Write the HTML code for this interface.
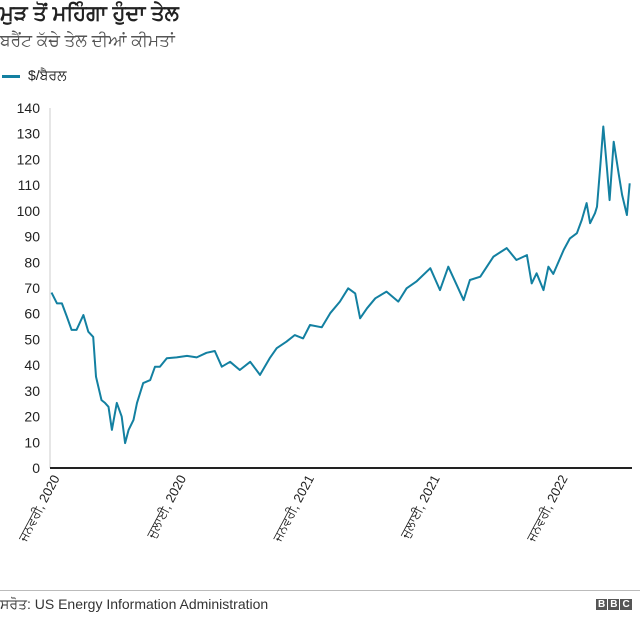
<!DOCTYPE html>
<html><head><meta charset="utf-8"><style>
body{margin:0;background:#fff;font-family:"Liberation Sans",sans-serif;}
#wrap{position:relative;width:640px;height:618px;overflow:hidden;}
.t{position:absolute;white-space:nowrap;}
</style></head><body>
<div id="wrap">
<div class="t" style="left:0;top:2px;font-size:21px;font-weight:bold;color:#222;">ਮੁੜ ਤੋਂ ਮਹਿੰਗਾ ਹੁੰਦਾ ਤੇਲ</div>
<div class="t" style="left:0;top:31px;font-size:17px;color:#555;">ਬਰੈਂਟ ਕੱਚੇ ਤੇਲ ਦੀਆਂ ਕੀਮਤਾਂ</div>
<div class="t" style="left:2px;top:67px;font-size:14px;color:#222;"><span style="display:inline-block;width:18px;height:3px;background:#1380a1;vertical-align:middle;margin-right:8px;"></span>$/ਬੈਰਲ</div>
<svg id="chart" width="640" height="618" style="position:absolute;left:0;top:0"></svg>
<div style="position:absolute;left:0;top:590px;width:640px;height:1px;background:#bbb"></div>
<div class="t" style="left:0;top:596px;font-size:14px;color:#333;">ਸਰੋਤ: US Energy Information Administration</div>
<div class="t" style="left:596px;top:599px;font-size:10px;font-weight:bold;color:#fff;">
<span style="background:#555;padding:0 2px;margin-right:1px">B</span><span style="background:#555;padding:0 2px;margin-right:1px">B</span><span style="background:#555;padding:0 2px">C</span></div>
</div>
<script>
const days=[5,13,20,27,34,41,51,58,65,69,77,82,87,92,99,106,111,116,123,128,137,147,154,161,171,185,200,214,228,240,250,262,276,291,305,319,329,343,355,367,377,394,406,420,432,442,449,459,471,487,504,516,530,550,564,576,588,598,607,622,641,660,674,689,696,703,713,720,727,742,751,761,768,775,780,787,790,795,799,804,808,814,821,826,833,837];
const prices=[68.2,64,64,58.9,53.7,53.7,59.5,53,51,35.5,26.4,25.3,23.8,14.8,25.3,20,9.7,14.8,18.7,25.3,33,34.2,39.4,39.4,42.7,43,43.6,43,44.8,45.5,39.4,41.3,38.1,41.3,36.2,42.7,46.6,49.1,51.7,50.4,55.6,54.7,60.2,64.7,69.9,67.9,58.2,62.1,66,68.6,64.7,69.9,72.5,77.7,69.2,78.3,71.2,65.3,73.1,74.4,82.2,85.5,80.9,82.8,71.8,75.7,69.2,78.3,75.5,84.8,89.3,91.3,96.5,103,95.2,99.1,101.6,118.5,132.8,117.2,104.2,126.9,114.6,106.2,98.4,110.7];
const yTicks=[0,10,20,30,40,50,60,70,80,90,100,110,120,130,140];
const xTickDays=[0,182,366,547,731];
const xTickLabels=["ਜਨਵਰੀ, 2020","ਜੁਲਾਈ, 2020","ਜਨਵਰੀ, 2021","ਜੁਲਾਈ, 2021","ਜਨਵਰੀ, 2022"];
const svg=document.getElementById('chart');const NS='http://www.w3.org/2000/svg';
const X=d=>48+d*0.695, Y=v=>468-v*360/140;
function mk(t,a){const e=document.createElementNS(NS,t);for(const k in a)e.setAttribute(k,a[k]);svg.appendChild(e);return e;}
const ya=mk('line',{x1:50,x2:50,y1:108,y2:468,stroke:'#ccc','stroke-width':1});


yTicks.forEach(v=>{const t=mk('text',{x:40,y:Y(v)+5,'text-anchor':'end','font-size':14,fill:'#222','font-family':'Liberation Sans, sans-serif'});t.textContent=v;

});
xTickDays.forEach((d,i)=>{const x=X(d)+12;const t=mk('text',{x:x,y:478,'text-anchor':'end','font-size':13,fill:'#222','font-family':'Liberation Sans, Noto Sans CJK SC, sans-serif',transform:`rotate(-62 ${x} 478)`});t.textContent=xTickLabels[i];

});
const p=mk('polyline',{points:days.map((d,i)=>X(d).toFixed(1)+','+Y(prices[i]).toFixed(1)).join(' '),fill:'none',stroke:'#1380a1','stroke-width':2,'stroke-linejoin':'round'});


const b=mk('line',{x1:50,x2:632,y1:468,y2:468,stroke:'#222','stroke-width':2});


</script>
</body></html>
